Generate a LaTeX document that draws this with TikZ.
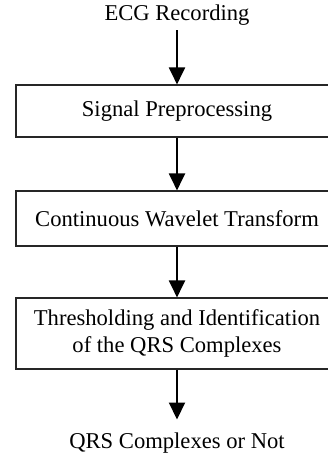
\documentclass[tikz,border=0pt]{standalone}
\usepackage{fontspec}
\setmainfont{Liberation Serif}
\usetikzlibrary{arrows.meta}
\begin{document}
\begin{tikzpicture}[x=1pt,y=1pt,
  every node/.style={font=\fontsize{22.6}{27}\selectfont},
  stepbox/.style={draw=black!85, line width=1.1pt, minimum width=322pt, inner sep=0pt, align=center},
  plain/.style={inner sep=4pt},
  flow/.style={line width=2pt, -{Triangle[width=16pt,length=17pt]}}
]
\useasboundingbox (0,0) rectangle (328,-457);
\node[plain, anchor=base] (ecg) at (177,-21) {ECG Recording};
\node[stepbox, minimum height=52pt] (b1) at (177,-111) {Signal Preprocessing};
\node[stepbox, minimum height=55pt] (b2) at (177,-218.5) {Continuous Wavelet Transform};
\node[stepbox, minimum height=71pt] (b3) at (177,-333.5) {Thresholding and Identification\\of the QRS Complexes};
\node[plain, anchor=base] (qrs) at (177,-448) {QRS Complexes or Not};
\draw[flow] (ecg.south) -- (b1.north);
\draw[flow] (b1.south) -- (b2.north);
\draw[flow] (b2.south) -- (b3.north);
\draw[flow, shorten >=8.6pt] (b3.south) -- (qrs.north);
\end{tikzpicture}
\end{document}
